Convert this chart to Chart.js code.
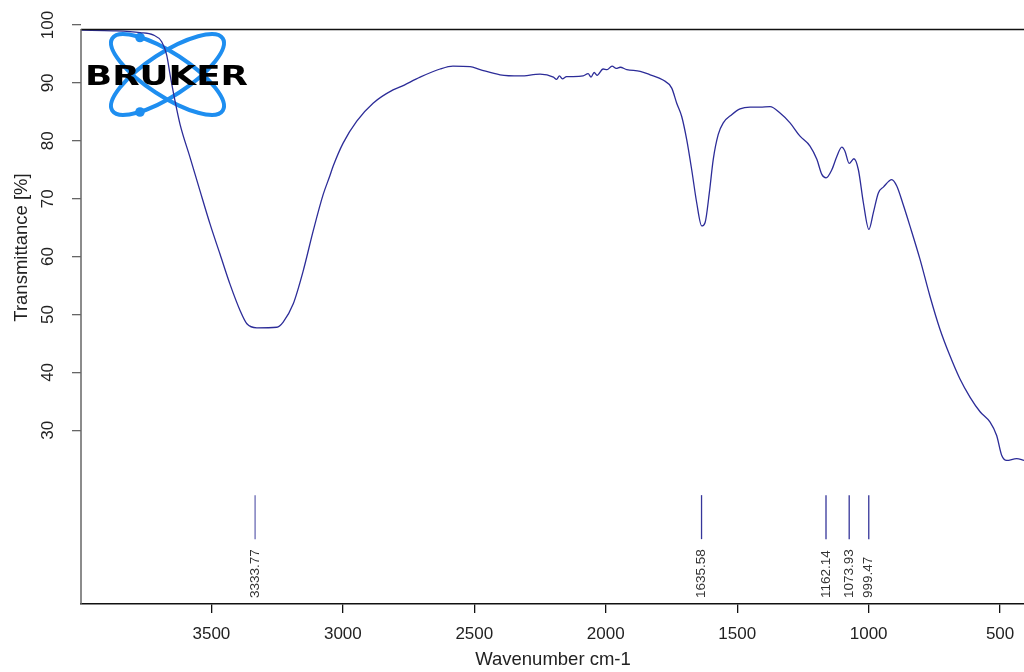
<!DOCTYPE html>
<html>
<head>
<meta charset="utf-8">
<script src="https://cdn.jsdelivr.net/npm/chart.js@4/dist/chart.umd.min.js"></script>
<style>
  body { margin: 0; background: #fff; }
  canvas { display: block; }
</style>
</head>
<body>
<canvas id="chart_ir" width="1024" height="672"></canvas>
<script>
// espectro (cm-1 / %T)
const wavenumbers = [
    3996, 3874, 3771, 3722, 3689, 3670, 3657, 3638, 3619, 3581,
    3543, 3505, 3467, 3429, 3391, 3365, 3327, 3251, 3227, 3189,
    3151, 3113, 3075, 3049, 3037, 2999, 2947, 2885, 2809, 2782,
    2706, 2630, 2581, 2516, 2478, 2402, 2326, 2250, 2199, 2187,
    2176, 2165, 2149, 2124, 2086, 2067, 2056, 2044, 2033, 2010,
    1995, 1976, 1960, 1945, 1920, 1869, 1831, 1782, 1749, 1730,
    1711, 1692, 1673, 1654, 1635, 1622, 1606, 1591, 1572, 1553,
    1521, 1489, 1451, 1413, 1375, 1337, 1299, 1261, 1223, 1197,
    1178, 1162, 1140, 1121, 1102, 1090, 1074, 1056, 1039, 1020,
    999, 982, 963, 944, 912, 893, 868, 843, 805, 767,
    729, 691, 653, 614, 576, 538, 513, 494, 475, 437, 409
];
const transmittance = [
    99.1, 99.0, 98.7, 98.3, 97.1, 94.8, 91.4, 86.8, 82.8, 77.1,
    71.3, 65.6, 60.4, 55.2, 50.7, 48.4, 47.7, 47.8, 48.7, 51.8,
    57.5, 64.4, 70.7, 74.0, 75.6, 79.6, 83.4, 86.5, 88.8, 89.3,
    91.0, 92.4, 92.9, 92.8, 92.3, 91.4, 91.2, 91.5, 91.0, 90.6,
    91.2, 90.7, 91.1, 91.1, 91.2, 91.6, 91.0, 91.8, 91.3, 92.4,
    92.3, 92.9, 92.5, 92.7, 92.3, 92.0, 91.4, 90.5, 89.1, 86.5,
    84.2, 80.2, 75.0, 69.3, 65.3, 65.9, 71.0, 76.8, 81.1, 83.1,
    84.5, 85.5, 85.8, 85.8, 85.9, 84.8, 83.1, 80.8, 79.1, 76.8,
    74.2, 73.6, 75.0, 77.3, 78.9, 78.2, 76.1, 76.9, 75.0, 69.3,
    64.7, 67.6, 71.0, 72.0, 73.3, 72.2, 68.9, 65.3, 59.6, 53.2,
    47.5, 42.9, 38.9, 35.7, 33.2, 31.4, 29.1, 25.7, 24.8, 25.1, 24.8
];

// picos marcados
const peakPositions = [3333.77, 1635.58, 1162.14, 1073.93, 999.47];
const peakLabels = ['3333.77', '1635.58', '1162.14', '1073.93', '999.47'];
const peakMarkLow = 11.2;
const peakMarkHigh = 18.8;

const xTicks = [3500, 3000, 2500, 2000, 1500, 1000, 500];
const yTicks = [30, 40, 50, 60, 70, 80, 90, 100];
const xRange = [409, 3996];

const fonte = '"Liberation Sans", Arial, sans-serif';

let dados = {
    datasets: [{
        label: 'Espectro',
        data: wavenumbers.map(function (w, i) { return { x: w, y: transmittance[i] }; }),
        borderColor: '#2c2c98',
        borderWidth: 1.3,
        pointRadius: 0,
        fill: false,
        tension: 0.35,
        cubicInterpolationMode: 'monotone'
    }]
};

for (let i = 0; i < peakPositions.length; i++) {
    dados.datasets.push({
        label: peakLabels[i],
        data: [{ x: peakPositions[i], y: peakMarkLow }, { x: peakPositions[i], y: peakMarkHigh }],
        borderColor: i == 0 ? '#6a6ab4' : '#35359a',
        borderWidth: 1.3,
        pointRadius: 0
    });
}

// logo, eixos e textos desenhados a mao
const extras = {
    id: 'extras',
    beforeDatasetsDraw(chart) {
        const ctx = chart.ctx;
        ctx.save();
        ctx.strokeStyle = '#1e8ef0';
        ctx.lineWidth = 4;
        [0.58, -0.58].forEach(function (ang) {
            ctx.beginPath();
            ctx.ellipse(167.5, 74.5, 66, 21.5, ang, 0, Math.PI * 2);
            ctx.stroke();
        });
        ctx.fillStyle = '#1e8ef0';
        [[140, 37.5], [140, 112]].forEach(function (p) {
            ctx.beginPath();
            ctx.arc(p[0], p[1], 4.8, 0, Math.PI * 2);
            ctx.fill();
        });
        ctx.restore();
    },
    afterDatasetsDraw(chart) {
        const ctx = chart.ctx;
        const area = chart.chartArea;
        const xs = chart.scales.x;
        const ys = chart.scales.y;
        ctx.save();

        // BRUKER
        ctx.font = 'bold 27px "DejaVu Sans", sans-serif';
        ctx.fillStyle = '#000';
        ctx.textBaseline = 'alphabetic';
        const w = ctx.measureText('BRUKER').width;
        ctx.save();
        ctx.translate(85, 85);
        ctx.scale(163 / w, 1);
        ctx.fillText('BRUKER', 0, 0);
        ctx.restore();

        // moldura superior e eixo y
        ctx.strokeStyle = '#111';
        ctx.lineWidth = 1.5;
        ctx.beginPath();
        ctx.moveTo(area.left, 29.5);
        ctx.lineTo(1024, 29.5);
        ctx.stroke();
        ctx.strokeStyle = '#666';
        ctx.beginPath();
        ctx.moveTo(area.left, 29);
        ctx.lineTo(area.left, area.bottom);
        ctx.stroke();

        // rotulos do eixo y (girados)
        ctx.fillStyle = '#222';
        ctx.font = '17px ' + fonte;
        ctx.textAlign = 'center';
        ctx.textBaseline = 'middle';
        ys.ticks.forEach(function (t) {
            const py = ys.getPixelForValue(t.value);
            ctx.save();
            ctx.translate(48, py);
            ctx.rotate(-Math.PI / 2);
            ctx.fillText(String(t.value), 0, 0);
            ctx.restore();
        });

        ctx.font = '18.5px ' + fonte;
        ctx.save();
        ctx.translate(22, 247.5);
        ctx.rotate(-Math.PI / 2);
        ctx.fillText('Transmittance [%]', 0, 0);
        ctx.restore();

        ctx.fillText('Wavenumber cm-1', 553, 660);

        // rotulos dos picos
        ctx.font = '13.5px ' + fonte;
        ctx.fillStyle = '#333';
        ctx.textAlign = 'left';
        for (let i = 0; i < peakPositions.length; i++) {
            const px = xs.getPixelForValue(peakPositions[i]);
            ctx.save();
            ctx.translate(px, 598);
            ctx.rotate(-Math.PI / 2);
            ctx.fillText(peakLabels[i], 0, 0);
            ctx.restore();
        }
        ctx.restore();
    }
};

const config_ir = {
    type: 'line',
    data: dados,
    options: {
        responsive: false,
        devicePixelRatio: 1,
        animation: false,
        events: [],
        layout: { padding: { top: 25, right: 0, left: 0, bottom: 0 } },
        plugins: {
            legend: { display: false },
            tooltip: { enabled: false }
        },
        scales: {
            x: {
                type: 'linear',
                reverse: true,
                min: xRange[0],
                max: xRange[1],
                afterBuildTicks: function (scale) {
                    scale.ticks = xTicks.map(function (v) { return { value: v }; });
                },
                afterFit: function (scale) {
                    scale.height = 68;
                    scale.paddingLeft = 0;
                    scale.paddingRight = 0;
                },
                grid: { drawOnChartArea: false, drawTicks: true, tickLength: 9, color: '#111', lineWidth: 1.3 },
                border: { display: true, color: '#111', width: 1.5 },
                ticks: {
                    color: '#222',
                    font: { family: fonte, size: 17 },
                    padding: 11,
                    maxRotation: 0,
                    autoSkip: false,
                    callback: function (v) { return String(v); }
                }
            },
            y: {
                type: 'linear',
                min: 0,
                max: 100,
                afterBuildTicks: function (scale) {
                    scale.ticks = yTicks.map(function (v) { return { value: v }; });
                },
                afterFit: function (scale) { scale.width = 81; },
                grid: { drawOnChartArea: false, drawTicks: true, tickLength: 9, color: '#666', lineWidth: 1.3 },
                border: { display: false },
                ticks: { display: false }
            }
        }
    },
    plugins: [extras]
};

const chart_ir = new Chart(document.getElementById('chart_ir'), config_ir);
</script>
</body>
</html>
